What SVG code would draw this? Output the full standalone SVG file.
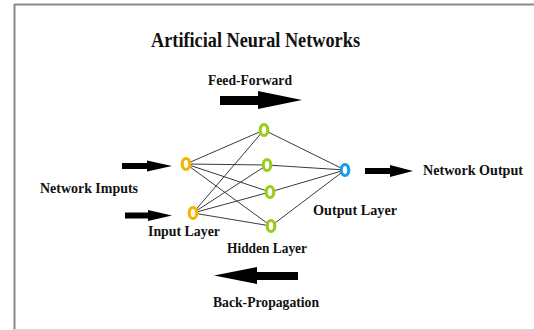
<svg xmlns="http://www.w3.org/2000/svg" width="534" height="330" viewBox="0 0 534 330">
<style>
text{font-family:"Liberation Serif","Times New Roman",serif;font-weight:bold;fill:#111}
.t{font-size:15px}
.edge{stroke:#3a3a3a;stroke-width:1;fill:none}
.in{fill:#fff;stroke:#f5b400;stroke-width:3.2}
.hid{fill:#fff;stroke:#9acd1a;stroke-width:3.2}
.out{fill:#fff;stroke:#1a9be6;stroke-width:3.2}
.arr{fill:#000}
</style>
<rect width="534" height="330" fill="#fff"/>
<g id="frame">
<line x1="14" y1="4.5" x2="534" y2="4.5" stroke="#8a8a8a" stroke-width="2"/>
<line x1="14.5" y1="4" x2="14.5" y2="330" stroke="#8a8a8a" stroke-width="2"/>
<line x1="14" y1="329.5" x2="534" y2="329.5" stroke="#d8d8d8" stroke-width="1"/>
</g>
<text id="title" x="151" y="47" font-size="20" textLength="209" lengthAdjust="spacingAndGlyphs">Artificial Neural Networks</text>
<g id="connectors">
<line class="edge" x1="186" y1="164" x2="264" y2="130"/>
<line class="edge" x1="186" y1="164" x2="267" y2="165"/>
<line class="edge" x1="186" y1="164" x2="270" y2="192"/>
<line class="edge" x1="186" y1="164" x2="271" y2="226"/>
<line class="edge" x1="193" y1="213" x2="264" y2="130"/>
<line class="edge" x1="193" y1="213" x2="267" y2="165"/>
<line class="edge" x1="193" y1="213" x2="270" y2="192"/>
<line class="edge" x1="193" y1="213" x2="271" y2="226"/>
<line class="edge" x1="264" y1="130" x2="345" y2="170"/>
<line class="edge" x1="267" y1="165" x2="345" y2="170"/>
<line class="edge" x1="270" y1="192" x2="345" y2="170"/>
<line class="edge" x1="271" y1="226" x2="345" y2="170"/>
</g>
<g id="arrows">
<polygon id="feed-forward-arrow" class="arr" points="220,96 258,96 258,91 302,100 258,109 258,105 220,105"/>
<polygon id="back-propagation-arrow" class="arr" points="298,272 257,272 257,267 214,275.5 257,284 257,280 298,280"/>
<polygon id="input-arrow-1" class="arr" points="122,163 147,163 147,160.5 172,166 147,171.5 147,169 122,169"/>
<polygon id="input-arrow-2" class="arr" points="125,212.5 148,212.5 148,210 172,215.5 148,221 148,218.5 125,218.5"/>
<polygon id="output-arrow" class="arr" points="365,168 390,168 390,165 413,171 390,177 390,174 365,174"/>
</g>
<g id="input-1"><ellipse class="in" cx="186" cy="164" rx="3.8" ry="5.5"/></g>
<g id="input-2"><ellipse class="in" cx="193" cy="213" rx="3.8" ry="5.5"/></g>
<g id="hidden-1"><ellipse class="hid" cx="264" cy="130" rx="3.8" ry="5.5"/></g>
<g id="hidden-2"><ellipse class="hid" cx="267" cy="165" rx="3.8" ry="5.5"/></g>
<g id="hidden-3"><ellipse class="hid" cx="270" cy="192" rx="3.8" ry="5.5"/></g>
<g id="hidden-4"><ellipse class="hid" cx="271" cy="226" rx="3.8" ry="5.5"/></g>
<g id="output"><ellipse class="out" cx="345" cy="170" rx="3.8" ry="5.5"/></g>
<g id="labels">
<text class="t" x="208" y="85" textLength="84" lengthAdjust="spacingAndGlyphs">Feed-Forward</text>
<text class="t" x="40" y="193" textLength="98" lengthAdjust="spacingAndGlyphs">Network Imputs</text>
<text class="t" x="148" y="236" textLength="72" lengthAdjust="spacingAndGlyphs">Input Layer</text>
<text class="t" x="227" y="253" textLength="80" lengthAdjust="spacingAndGlyphs">Hidden Layer</text>
<text class="t" x="313" y="215" textLength="84" lengthAdjust="spacingAndGlyphs">Output Layer</text>
<text class="t" x="423" y="175" textLength="100" lengthAdjust="spacingAndGlyphs">Network Output</text>
<text class="t" x="213" y="307" textLength="106" lengthAdjust="spacingAndGlyphs">Back-Propagation</text>
</g>
</svg>
